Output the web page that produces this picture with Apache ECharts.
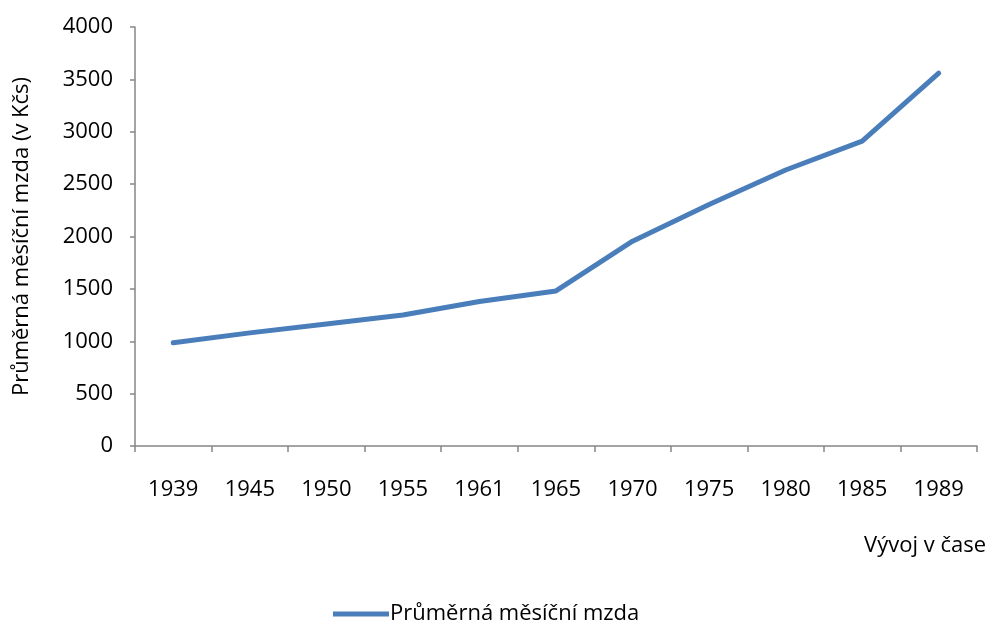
<!DOCTYPE html>
<html>
<head>
<meta charset="utf-8">
<script src="https://cdn.jsdelivr.net/npm/echarts@6/dist/echarts.min.js"></script>
<style>html,body{margin:0;padding:0;background:#fff}#c{width:993px;height:623px}</style>
</head>
<body>
<div id="c"></div>
<script>
const categories = ['1939','1945','1950','1955','1961','1965','1970','1975','1980','1985','1989'];
const wages = [985, 1080, 1165, 1250, 1380, 1480, 1955, 2305, 2635, 2910, 3560];
const seriesName = 'Průměrná měsíční mzda';
const yAxisTitle = 'Průměrná měsíční mzda (v Kčs)';
const xAxisTitle = 'Vývoj v čase';

const FONT = '"Open Sans", "Liberation Sans", sans-serif';
const FS = 22;
const axisColor = '#868686';
const chart = echarts.init(document.getElementById('c'));
chart.setOption({
  animation: false,
  backgroundColor: '#ffffff',
  title: {
    text: xAxisTitle,
    right: 2, top: 530,
    textStyle: {fontFamily: FONT, fontSize: FS, fontWeight: 'normal', color: '#000'}
  },
  legend: {
    data: [seriesName],
    left: 328, top: 598,
    itemWidth: 56, itemHeight: 5,
    itemGap: 4,
    icon: 'rect',
    textStyle: {fontFamily: FONT, fontSize: FS, color: '#000', padding: [0,0,0,-4]}
  },
  grid: {left: 135, right: 16, top: 27, bottom: 177, containLabel: false},
  xAxis: {
    type: 'category',
    data: categories,
    boundaryGap: true,
    axisLine: {lineStyle: {color: axisColor, width: 1.5}},
    axisTick: {show: true, length: 6, lineStyle: {color: axisColor, width: 1.5}, alignWithLabel: false},
    axisLabel: {fontFamily: FONT, fontSize: FS, color: '#000', margin: 33}
  },
  yAxis: {
    type: 'value',
    min: 0, max: 4000, interval: 500,
    name: yAxisTitle,
    nameLocation: 'middle',
    nameGap: 102,
    nameRotate: 90,
    nameTextStyle: {fontFamily: FONT, fontSize: FS, color: '#000'},
    axisLine: {show: true, lineStyle: {color: axisColor, width: 1.5}},
    axisTick: {show: true, length: 5, lineStyle: {color: axisColor, width: 1.5}},
    splitLine: {show: false},
    axisLabel: {fontFamily: FONT, fontSize: FS, color: '#000', margin: 22, formatter: v => String(v)}
  },
  series: [{
    name: seriesName,
    type: 'line',
    data: wages,
    symbol: 'none',
    lineStyle: {color: '#4a7ebb', width: 5, cap: 'round', join: 'round'},
    itemStyle: {color: '#4a7ebb'}
  }]
});
</script>
</body>
</html>
